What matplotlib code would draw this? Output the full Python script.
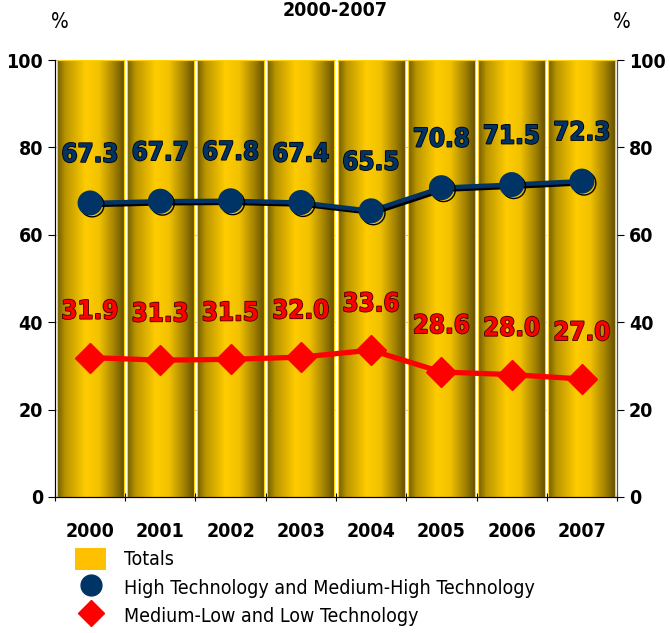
import numpy as np
import matplotlib.pyplot as plt
import matplotlib.patheffects as pe
from matplotlib.colors import LinearSegmentedColormap
from matplotlib.lines import Line2D
from matplotlib.patches import Patch

years = ["2000", "2001", "2002", "2003", "2004", "2005", "2006", "2007"]
totals = [100, 100, 100, 100, 100, 100, 100, 100]
high_tech = [67.3, 67.7, 67.8, 67.4, 65.5, 70.8, 71.5, 72.3]
low_tech = [31.9, 31.3, 31.5, 32.0, 33.6, 28.6, 28.0, 27.0]

# narrow look: condensed DejaVu
plt.rcParams["font.family"] = ["DejaVu Sans"]
plt.rcParams["font.stretch"] = "condensed"

navy = "#003366"
red = "#ff0000"
gold = LinearSegmentedColormap.from_list(
    "gold", [(0.0, "#6e5a00"), (0.12, "#b89400"), (0.42, "#ffcc00"),
             (0.62, "#f2c200"), (0.85, "#a08000"), (1.0, "#5e4c00")])

fig = plt.figure(figsize=(6.7, 6.33), dpi=100)
ax = fig.add_axes([0.082, 0.215, 0.839, 0.69])

x = np.arange(len(years))
w = 0.955
grad = np.linspace(0, 1, 256).reshape(1, -1)
for xi, t in zip(x, totals):
    ax.imshow(grad, cmap=gold, aspect="auto", zorder=1,
              extent=(xi - w / 2, xi + w / 2, 0, t))
    ax.add_patch(plt.Rectangle((xi - w / 2, 0), w, t, fill=False,
                               edgecolor="#ffd200", lw=0.8, zorder=1.5))

shadow = [pe.SimpleLineShadow(offset=(1.5, -1.5), shadow_color="black", alpha=1),
          pe.Normal()]
ax.plot(x, high_tech, color=navy, lw=3.2, marker="o", ms=17, zorder=3,
        path_effects=shadow)
ax.plot(x, low_tech, color=red, lw=3.8, marker="D", ms=15, zorder=3)

for xi, v in zip(x, high_tech):
    ax.text(xi, v + 11, f"{v:.1f}", ha="center", va="center", fontsize=18.5,
            fontweight="bold", color=navy, zorder=4,
            path_effects=[pe.withStroke(linewidth=1.2, foreground="black")])
for xi, v in zip(x, low_tech):
    ax.text(xi, v + 10.5, f"{v:.1f}", ha="center", va="center", fontsize=18.5,
            fontweight="bold", color=red, zorder=4,
            path_effects=[pe.withStroke(linewidth=1.2, foreground="#400000")])

ax.set_xlim(-0.5, 7.5)
ax.set_ylim(0, 100)
ax.set_yticks(range(0, 101, 20))
ax.grid(axis="y", color="#bbbbbb", ls=(0, (2, 3)), lw=0.8, zorder=0)
ax.set_axisbelow(True)
ax.set_xticks(np.arange(-0.5, 8, 1))
ax.set_xticklabels([])
ax.set_xticks(x, minor=True)
ax.set_xticklabels(years, minor=True, fontsize=14, fontweight="bold")
ax.tick_params(axis="x", which="minor", length=0, pad=18)
ax.tick_params(axis="x", which="major", length=6, direction="inout")
ax.tick_params(axis="y", labelsize=14, length=5)
for lab in ax.get_yticklabels():
    lab.set_fontweight("bold")
ax.spines["top"].set_visible(False)
ax.spines["left"].set_color("#555555")
ax.spines["right"].set_color("#555555")

ax2 = ax.twinx()
ax2.set_ylim(0, 100)
ax2.set_yticks(range(0, 101, 20))
ax2.tick_params(axis="y", labelsize=14, length=5)
for lab in ax2.get_yticklabels():
    lab.set_fontweight("bold")
ax2.spines["top"].set_visible(False)
ax2.spines["right"].set_color("#555555")

fig.text(0.5, 0.999, "2000-2007", ha="center", va="top", fontsize=14,
         fontweight="bold")
fig.text(0.09, 0.965, "%", ha="center", va="center", fontsize=15)
fig.text(0.928, 0.965, "%", ha="center", va="center", fontsize=15)

handles = [Patch(facecolor="#ffc000", edgecolor="none"),
           Line2D([], [], color=navy, marker="o", ls="none", ms=15),
           Line2D([], [], color=red, marker="D", ls="none", ms=13)]
labels = ["Totals", "High Technology and Medium-High Technology",
          "Medium-Low and Low Technology"]
fig.legend(handles, labels, loc="upper left", bbox_to_anchor=(0.098, 0.15),
           frameon=False, fontsize=14, handlelength=1.6, handleheight=1.4,
           handletextpad=0.9, labelspacing=0.3, borderpad=0)

fig.savefig("out.png", dpi=100)
